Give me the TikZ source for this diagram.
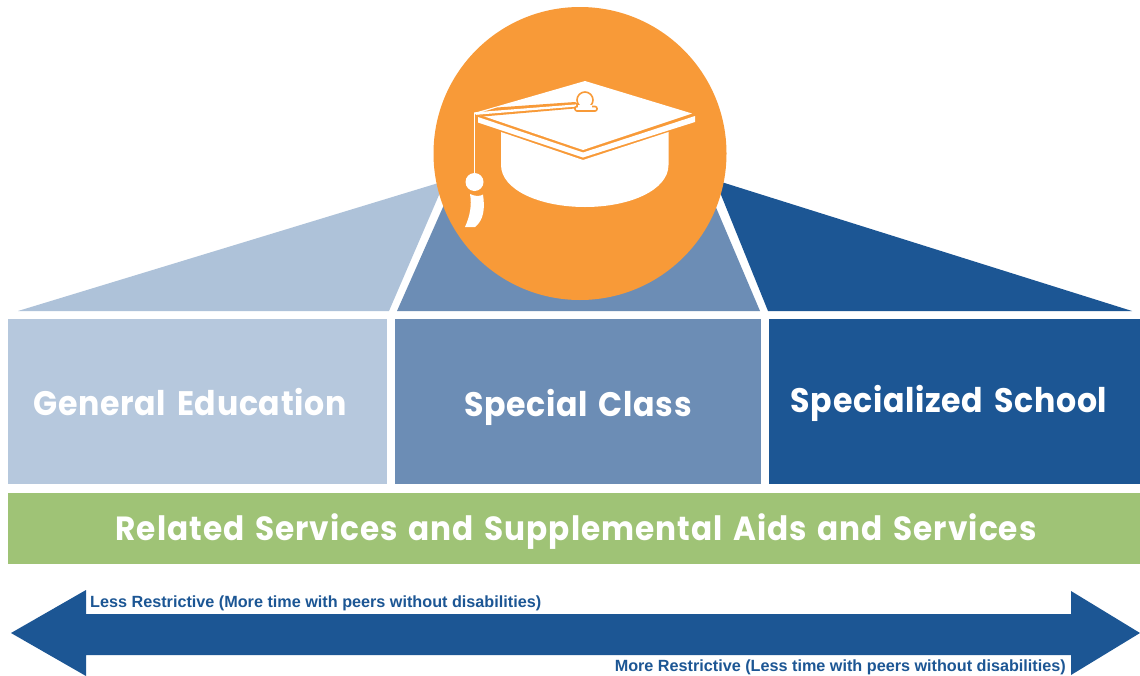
\documentclass[tikz,border=0pt]{standalone}
\usepackage{fontspec}
\setmainfont{Liberation Sans}
\newfontfamily\headfont[LetterSpace=2,WordSpace=1.5,FakeStretch=0.93]{Poppins Bold}
\newfontfamily\greenfont[LetterSpace=3,WordSpace=1.4,FakeStretch=0.93]{Poppins Bold}
\definecolor{lightblue}{HTML}{B6C8DD}
\definecolor{lightroof}{HTML}{AEC2D9}
\definecolor{midblue}{HTML}{6C8DB5}
\definecolor{darkblue}{HTML}{1C5694}
\definecolor{leaf}{HTML}{9FC376}
\definecolor{capcircle}{HTML}{F89A38}
\tikzset{
  headtext/.style={text=white,font=\headfont\fontsize{34}{38}\selectfont,inner sep=0pt,anchor=base},
  greentext/.style={text=white,font=\greenfont\fontsize{33.5}{38}\selectfont,inner sep=0pt,anchor=base},
  arrowtext/.style={text=darkblue,font=\bfseries\fontsize{16.2}{18}\selectfont,inner sep=0pt},
  capwhite/.style={fill=white,draw=none}
}
\begin{document}
\begin{tikzpicture}[x=1pt,y=-1pt]
\useasboundingbox (0,0) rectangle (1140,675);
\fill[white] (0,0) rectangle (1140,675);
% roof
\fill[lightroof] (18,311) -- (445,181) -- (389,311) -- cycle;
\fill[midblue] (397,311) -- (447,198) -- (712,198) -- (760,311) -- cycle;
\fill[darkblue] (715,180) -- (1132,311) -- (768,311) -- cycle;
% boxes
\node[fill=lightblue,minimum width=379pt,minimum height=165pt,inner sep=0pt] (general) at (197.5,401.5) {};
\node[fill=midblue,minimum width=366pt,minimum height=165pt,inner sep=0pt] (special) at (578,401.5) {};
\node[fill=darkblue,minimum width=371pt,minimum height=165pt,inner sep=0pt] (school) at (954.5,401.5) {};
\node[fill=leaf,minimum width=1132pt,minimum height=71pt,inner sep=0pt] (related) at (574,528.5) {};
\node[headtext] at (190,415) {General Education};
\node[headtext] at (578,416) {Special Class};
\node[headtext] at (949,412) {Specialized School};
\node[greentext] at (576,540) {Related Services and Supplemental Aids and Services};
% double arrow
\fill[darkblue] (11,633) -- (86,590) -- (86,614) -- (1071,614) -- (1071,591) -- (1140,633)
  -- (1071,675) -- (1071,655) -- (86,655) -- (86,676) -- cycle;
\node[arrowtext,anchor=base west] at (90,607) {Less Restrictive (More time with peers without disabilities)};
\node[arrowtext,anchor=base east] at (1066,671) {More Restrictive (Less time with peers without disabilities)};
% circle
\node[circle,fill=capcircle,minimum size=293pt,inner sep=0pt] (badge) at (580,153.5) {};
% cap base, its top following the V of the board
\path[capwhite] (501,132) -- (583,160) -- (668.5,132) -- (668.5,165) .. controls (668.5,190) and (630,207) .. (585,207)
  .. controls (540,207) and (501,190) .. (501,165) -- cycle;
% board underside strip
\path[capwhite] (478,117) -- (583,152.5) -- (695,116) -- (695,122) -- (583,157.5) -- (478,122.5) -- cycle;
% board
\path[capwhite] (585,81) -- (692,113.5) -- (583,150) -- (480,115) -- (474,113) -- cycle;
% cord and button
\path[fill=capcircle] (497,107.5) -- (575,102) -- (578,104) -- (578,108.5) -- (575,108.5) -- (483,116.5) -- (477,113.8) -- cycle;
\path[capwhite] (474,112.4) -- (576,104.4) -- (576,106.6) -- (476,114.8) -- cycle;
\draw[capcircle,line width=1.6pt,fill=white] (585,100) circle (8);
\draw[capcircle,line width=1.6pt,fill=white,rounded corners=2pt] (575,106.5) -- (597,106.5) -- (597,111) -- (575,111) -- cycle;
\path[capwhite] (578,105) -- (592,105) -- (592,108) -- (578,108) -- cycle;
% tassel
\draw[white,line width=1.5pt] (474.5,112.6) -- (474.5,176);
\path[capwhite] (474.5,182) circle (9);
\path[capwhite] (470,194) .. controls (475,196.5) and (480,196.5) .. (483,194.5) .. controls (485,208) and (484,220) .. (475,227)
  -- (465,227) .. controls (470,216) and (472,205) .. (470,194) -- cycle;
\end{tikzpicture}
\end{document}
